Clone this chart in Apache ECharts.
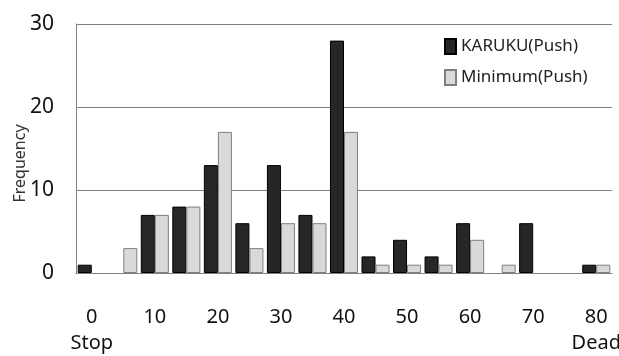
<!DOCTYPE html>
<html lang="en">
<head>
    <meta charset="UTF-8">
    <title>Frequency</title>
    <script src="https://cdn.jsdelivr.net/npm/echarts@6/dist/echarts.min.js"></script>
    <style>
        html, body { margin: 0; padding: 0; background: #fff; }
        #chart { width: 619px; height: 356px; }
    </style>
</head>
<body>
    <div id="chart"></div>
    <script>
        // bins of 5, labels every 10
        const categories = ['0', '5', '10', '15', '20', '25', '30', '35', '40', '45', '50', '55', '60', '65', '70', '75', '80'];
        const karuku = [1, 0, 7, 8, 13, 6, 13, 7, 28, 2, 4, 2, 6, 0, 6, 0, 1];
        const minimum = [0, 3, 7, 8, 17, 3, 6, 6, 17, 1, 1, 1, 4, 1, 0, 0, 1];
        const yTicks = [0, 10, 20, 30];

        const font = "'Noto Sans', sans-serif";
        // empty bins are not drawn at all
        const hideZero = arr => arr.map(v => (v === 0 ? '-' : v));

        const chart = echarts.init(document.getElementById('chart'));

        chart.setOption({
            animation: false,
            textStyle: { fontFamily: font },
            grid: { left: 76, right: 7, top: 24, bottom: 83, outerBoundsMode: 'none' },
            legend: {
                left: 439,
                top: 33,
                orient: 'vertical',
                icon: 'rect',
                itemWidth: 11,
                itemHeight: 15,
                itemGap: 14,
                textStyle: { fontSize: 17, color: '#222', fontFamily: font },
                data: ['KARUKU(Push)', 'Minimum(Push)']
            },
            xAxis: {
                type: 'category',
                data: categories,
                axisLine: { lineStyle: { color: '#808080' } },
                axisTick: { show: false },
                axisLabel: {
                    interval: 1,
                    margin: 31,
                    fontSize: 20,
                    lineHeight: 26,
                    color: '#111',
                    formatter: function (v) {
                        if (v === '0') return '0\nStop';
                        if (v === '80') return '80\nDead';
                        return v;
                    }
                }
            },
            yAxis: {
                type: 'value',
                min: yTicks[0],
                max: yTicks[yTicks.length - 1],
                interval: 10,
                name: 'Frequency',
                nameLocation: 'middle',
                nameRotate: 90,
                nameGap: 48,
                nameMoveOverlap: false,
                nameTextStyle: { fontSize: 16, color: '#333', padding: [0, 30, 0, 0] },
                axisLine: { show: true, lineStyle: { color: '#808080' } },
                axisTick: { show: false },
                axisLabel: { margin: 22, fontSize: 21, color: '#111' },
                splitLine: { lineStyle: { color: '#808080' } }
            },
            series: [
                {
                    name: 'KARUKU(Push)',
                    type: 'bar',
                    data: hideZero(karuku),
                    barGap: '0%',
                    barCategoryGap: '11%',
                    itemStyle: { color: '#262626', borderColor: '#000', borderWidth: 1 }
                },
                {
                    name: 'Minimum(Push)',
                    type: 'bar',
                    data: hideZero(minimum),
                    itemStyle: { color: '#d9d9d9', borderColor: '#7f7f7f', borderWidth: 1 }
                }
            ]
        });
    </script>
</body>
</html>
